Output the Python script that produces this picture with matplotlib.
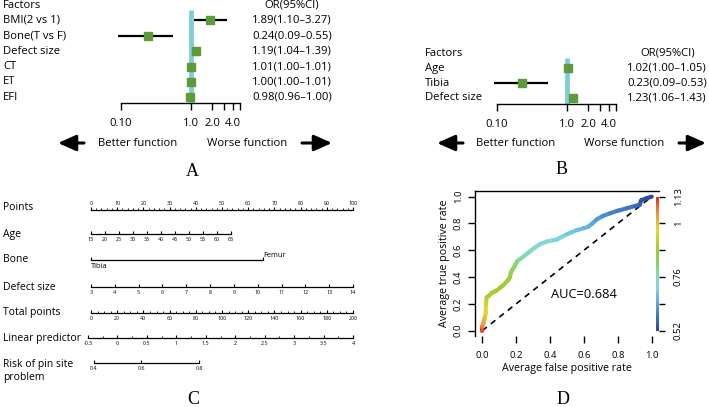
import numpy as np
import matplotlib
matplotlib.use("Agg")
import matplotlib.pyplot as plt
from matplotlib.transforms import blended_transform_factory
from matplotlib.collections import LineCollection
from matplotlib.colors import LinearSegmentedColormap, Normalize
from matplotlib.ticker import NullLocator

plt.rcParams['font.family'] = ['Open Sans', 'DejaVu Sans']

# ---- data: panel A (multivariable forest plot) ----
a_factors = ["BMI(2 vs 1)", "Bone(T vs F)", "Defect size", "CT", "ET", "EFI"]
a_or = [1.89, 0.24, 1.19, 1.01, 1.00, 0.98]
a_lo = [1.10, 0.09, 1.04, 1.00, 1.00, 0.96]
a_hi = [3.27, 0.55, 1.39, 1.01, 1.01, 1.00]

# ---- data: panel B (final model forest plot) ----
b_factors = ["Age", "Tibia", "Defect size"]
b_or = [1.02, 0.23, 1.23]
b_lo = [1.00, 0.09, 1.06]
b_hi = [1.05, 0.53, 1.43]

forest_ticks = [0.1, 1, 2, 3, 4, 5]
forest_ticklabels = ["0.10", "1.0", "2.0", "", "4.0", ""]

# ---- data: panel C (nomogram) ----
age_values = [15, 20, 25, 30, 35, 40, 45, 50, 55, 60, 65]
age_max_points = 53.5        # points given at age 65
bone_levels = ["Tibia", "Femur"]
bone_points = [0, 65.6]
defect_values = list(range(3, 15))
total_ticks = list(range(0, 201, 20))
lp_ticks = [-0.5, 0, 0.5, 1, 1.5, 2, 2.5, 3, 3.5, 4]
lp_labels = ["-0.5", "0", "0.5", "1", "1.5", "2", "2.5", "3", "3.5", "4"]
risk_values = [0.4, 0.6, 0.8]

# ---- data: panel D (colorized ROC) ----
fpr = [0.0, 0.0, 0.006, 0.015, 0.02, 0.022, 0.026, 0.04, 0.055, 0.07, 0.085,
       0.105, 0.125, 0.144, 0.155, 0.163, 0.168, 0.175, 0.19, 0.207, 0.24,
       0.28, 0.31, 0.34, 0.38, 0.44, 0.50, 0.557, 0.60, 0.626, 0.65, 0.675,
       0.71, 0.754, 0.80, 0.852, 0.90, 0.93, 0.935, 0.94, 0.97, 1.0]
tpr = [0.0, 0.03, 0.055, 0.10, 0.13, 0.20, 0.25, 0.26, 0.28, 0.29, 0.30,
       0.32, 0.34, 0.366, 0.38, 0.40, 0.43, 0.45, 0.48, 0.52, 0.55,
       0.59, 0.62, 0.645, 0.665, 0.68, 0.72, 0.75, 0.765, 0.776, 0.80, 0.83,
       0.855, 0.876, 0.895, 0.913, 0.93, 0.94, 0.965, 0.975, 0.988, 1.0]
cutoff = [1.13, 1.09, 1.05, 1.02, 0.99, 0.95, 0.925, 0.915, 0.905, 0.90, 0.895,
          0.89, 0.885, 0.88, 0.875, 0.87, 0.86, 0.85, 0.83, 0.81, 0.79,
          0.77, 0.755, 0.74, 0.73, 0.72, 0.70, 0.685, 0.675, 0.665, 0.65, 0.635,
          0.62, 0.61, 0.60, 0.59, 0.575, 0.565, 0.55, 0.54, 0.53, 0.52]
cut_min, cut_max = 0.52, 1.13
cut_labels = ["0.52", "", "0.76", "", "1", "1.13"]
auc = 0.684

W, H = 709, 407
fig = plt.figure(figsize=(W / 100, H / 100), dpi=100)


def box(l, t, r, b):
    # pixel box (left, top, right, bottom) -> figure fraction rect
    return [l / W, 1 - b / H, (r - l) / W, (b - t) / H]


canvas = fig.add_axes([0, 0, 1, 1])
canvas.set_xlim(0, W)
canvas.set_ylim(H, 0)
canvas.axis("off")

SQ_GREEN = "#5c9a3c"
BAND = "#80cbd6"
FS = 8.1
CFS = 7.5   # nomogram row labels


def forest(factors, ors, los, his, x0, x1, top, gap, axis_y, label_x, right_x, head_x):
    n = len(factors)
    k_bot = (axis_y - top) / gap
    ax = fig.add_axes(box(x0, top - 0.5 * gap, x1, axis_y))
    ax.set_xscale("log")
    ax.set_xlim(0.1, 5)
    ax.set_ylim(k_bot, -0.5)
    rows = np.arange(1, n + 1)
    ax.vlines(1, 0.35, k_bot, color=BAND, lw=3.4, zorder=1)
    ax.hlines(rows, los, his, color="black", lw=1.6, zorder=3, clip_on=False)
    ax.plot(ors, rows, "s", color=SQ_GREEN, ms=5.2, zorder=4, clip_on=False)
    for s in ["top", "left", "right"]:
        ax.spines[s].set_visible(False)
    ax.spines["bottom"].set_linewidth(1.0)
    ax.set_yticks([])
    ax.set_xticks(forest_ticks)
    ax.set_xticklabels(forest_ticklabels)
    ax.xaxis.set_minor_locator(NullLocator())
    ax.tick_params(axis="x", direction="out", length=5, width=1.0, pad=5.5, labelsize=FS)
    ax.patch.set_visible(False)
    tr = blended_transform_factory(canvas.transData, ax.transData)
    ax.text(label_x, 0, "Factors", transform=tr, ha="left", va="center", fontsize=FS)
    ax.text(head_x, 0, "OR(95%CI)", transform=tr, ha="center", va="center", fontsize=FS)
    for r, f, o, lo, hi in zip(rows, factors, ors, los, his):
        ax.text(label_x, r, f, transform=tr, ha="left", va="center", fontsize=FS)
        ax.text(right_x, r, f"{o:.2f}({lo:.2f}\u2013{hi:.2f})", transform=tr,
                ha="right", va="center", fontsize=FS)
    return ax


def arrows(y, left_arrow, better_x, worse_x, right_arrow):
    props = dict(arrowstyle="-|>,head_length=0.9,head_width=0.4", lw=2.2,
                 color="black", mutation_scale=12, shrinkA=0, shrinkB=0)
    canvas.annotate("", xy=(left_arrow[0], y), xytext=(left_arrow[1], y), arrowprops=props)
    canvas.annotate("", xy=(right_arrow[1], y), xytext=(right_arrow[0], y), arrowprops=props)
    canvas.text(better_x, y, "Better function", ha="center", va="center", fontsize=FS)
    canvas.text(worse_x, y, "Worse function", ha="center", va="center", fontsize=FS)


def letter(x, y, s):
    canvas.text(x, y, s, ha="center", va="center", fontsize=13,
                fontfamily="Liberation Serif")


# ---- panel A ----
forest(a_factors, a_or, a_lo, a_hi, 121, 240, 5, 15.4, 103, 3, 332, 292)
arrows(143, (58, 84), 138, 247, (302, 332))
letter(192, 172, "A")

# ---- panel B ----
forest(b_factors, b_or, b_lo, b_hi, 497, 616, 53, 15.0, 104, 425, 707, 668)
arrows(143, (437, 463), 516, 624, (679, 706))
letter(562, 170, "B")

# ---- panel C: nomogram ----
NL, NR = 91, 353
NFS = 3.9


def nomo_row(y, label, xlim, bounds, majors, majorlabels, minors=None,
             top=False, x0=NL, x1=NR, label_y=None, ha="center"):
    if top:
        ax = fig.add_axes(box(x0, y, x1, y + 10))
        ax.xaxis.tick_top()
        spine = "top"
        direction = "out"
        pad = 1.2
    else:
        ax = fig.add_axes(box(x0, y - 10, x1, y))
        spine = "bottom"
        direction = "in"
        pad = 2.5
    ax.set_xlim(*xlim)
    ax.set_ylim(0, 1)
    for s in ["top", "bottom", "left", "right"]:
        ax.spines[s].set_visible(s == spine)
    ax.spines[spine].set_bounds(*bounds)
    ax.spines[spine].set_linewidth(0.9)
    ax.set_yticks([])
    ax.set_xticks(majors)
    ax.set_xticklabels(majorlabels, ha=ha)
    if minors is not None:
        ax.set_xticks(minors, minor=True)
    else:
        ax.xaxis.set_minor_locator(NullLocator())
    ax.tick_params(axis="x", which="major", direction=direction, length=2.0,
                   width=0.8, pad=pad, labelsize=NFS)
    ax.tick_params(axis="x", which="minor", direction=direction, length=1.2, width=0.6)
    ax.patch.set_visible(False)
    canvas.text(3, y if label_y is None else label_y, label, ha="left",
                va="center", fontsize=CFS)
    return ax


nomo_row(210, "Points", (0, 100), (0, 100), list(range(0, 101, 10)),
         [str(v) for v in range(0, 101, 10)], minors=list(range(0, 101, 2)),
         top=True, label_y=208)

age_pts = [(a - age_values[0]) / (age_values[-1] - age_values[0]) * age_max_points
           for a in age_values]
nomo_row(234, "Age", (0, 100), (0, age_pts[-1]), age_pts,
         [str(a) for a in age_values])

ax_bone = nomo_row(260, "Bone", (0, 100), (bone_points[0], bone_points[1]),
                   bone_points, [bone_levels[0], ""], ha="left")
for lab in ax_bone.get_xticklabels():
    lab.set_fontsize(5.4)
ax_bone.text(bone_points[1], 0.45, bone_levels[1], transform=ax_bone.transData,
             ha="left", va="center", fontsize=5.4)

def_pts = [(d - defect_values[0]) / (defect_values[-1] - defect_values[0]) * 100
           for d in defect_values]
nomo_row(287, "Defect size", (0, 100), (0, 100), def_pts,
         [str(d) for d in defect_values])

nomo_row(313, "Total points", (0, 200), (0, 200), total_ticks,
         [str(v) for v in total_ticks], minors=list(range(0, 201, 5)))

nomo_row(338, "Linear predictor", (-0.5, 4), (-0.5, 4), lp_ticks, lp_labels,
         minors=list(np.arange(-0.5, 4.01, 0.25)), x0=88)

risk_lp = [np.log(p / (1 - p)) for p in risk_values]
nomo_row(363, "Risk of pin site\nproblem", (-0.5, 4), (risk_lp[0], risk_lp[-1]),
         risk_lp, [str(p) for p in risk_values], x0=88, label_y=371)
canvas.texts[-1].set_linespacing(1.2)
letter(193, 399, "C")

# ---- panel D: colorized ROC curve ----
roc_cmap = LinearSegmentedColormap.from_list(
    "roc_rainbow",
    [(0.0, "#2c47a0"), (0.12, "#3d7cc6"), (0.22, "#5fb0dc"), (0.32, "#80d6e0"),
     (0.42, "#7edcb8"), (0.52, "#8cd456"), (0.62, "#a6cc2a"), (0.75, "#e4d83a"),
     (0.87, "#f09a38"), (1.0, "#e4301c")])
norm = Normalize(cut_min, cut_max)

axd = fig.add_axes(box(475.5, 191.3, 658.5, 336))
axd.set_xlim(-0.04, 1.04)
axd.set_ylim(-0.04, 1.04)
pts = np.column_stack([fpr, tpr])
segs = np.stack([pts[:-1], pts[1:]], axis=1)
cmid = (np.array(cutoff[:-1]) + np.array(cutoff[1:])) / 2
lc = LineCollection(segs, cmap=roc_cmap, norm=norm, linewidths=3.0,
                    capstyle="round", joinstyle="round", zorder=3)
lc.set_array(cmid)
axd.add_collection(lc)
axd.plot([0, 1], [0, 1], ls=(0, (3.5, 3)), color="black", lw=1.2, zorder=2)
grad = np.linspace(cut_min, cut_max, 256)[:, None]
axd.imshow(grad, extent=[1.024, 1.04, 0, 1], origin="lower", cmap=roc_cmap,
           norm=norm, aspect="auto", zorder=4)
axd.set_xlim(-0.04, 1.04)
axd.set_ylim(-0.04, 1.04)
axd.text(0.6, 0.27, f"AUC={auc}", ha="center", va="center", fontsize=9.3)

axd.spines["bottom"].set_visible(False)
axd.spines["right"].set_visible(False)
for s in ["left", "top"]:
    axd.spines[s].set_linewidth(1.0)
ticks01 = [0.0, 0.2, 0.4, 0.6, 0.8, 1.0]
axd.set_xticks(ticks01)
axd.set_yticks(ticks01)
axd.set_xticklabels([f"{t:.1f}" for t in ticks01])
axd.set_yticklabels([f"{t:.1f}" for t in ticks01], rotation=90, va="center")
axd.tick_params(direction="out", length=5, width=1.0, labelsize=6.8)
axd.tick_params(axis="x", pad=6)
axd.tick_params(axis="y", pad=4)
axd.set_xlabel("Average false positive rate", fontsize=7.7, labelpad=2)
axd.set_ylabel("Average true positive rate", fontsize=7.7, labelpad=3)

twin = axd.twinx()
span = cut_max - cut_min
twin.set_ylim(cut_min - 0.04 * span, cut_min + 1.04 * span)
for s in twin.spines.values():
    s.set_visible(False)
twin.set_yticks(np.linspace(cut_min, cut_max, 6))
twin.set_yticklabels(cut_labels, rotation=90, va="center")
twin.tick_params(axis="y", direction="out", length=4, width=1.0, pad=7, labelsize=6.8)
letter(563, 399, "D")

fig.savefig("out.png", dpi=100)
